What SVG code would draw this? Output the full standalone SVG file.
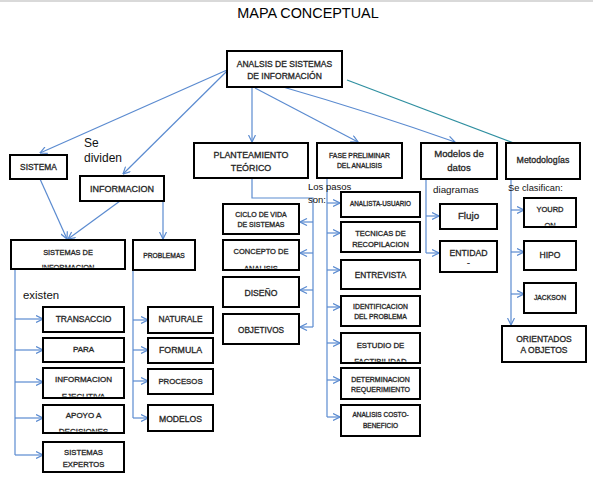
<svg xmlns="http://www.w3.org/2000/svg" width="593" height="488" viewBox="0 0 593 488">
<defs>
<style>
.bx{fill:#fff;stroke:#000;stroke-width:2}
.t{font-family:"Liberation Sans",Arial,sans-serif;fill:#262626;stroke:#262626;stroke-width:0.3;text-anchor:middle}
.l{font-family:"Liberation Sans",Arial,sans-serif;fill:#111}
.c{fill:none;stroke:#5b8bd0;stroke-width:1.2}
.ct{fill:none;stroke:#2f8fa0;stroke-width:1.2}
</style>
<marker id="ah" viewBox="0 0 8 8" refX="7.5" refY="4" markerWidth="8" markerHeight="8" markerUnits="userSpaceOnUse" orient="auto"><path d="M0.5,0.5 L7.5,4 L0.5,7.5" fill="none" stroke="#5b8bd0" stroke-width="1.2"/></marker>
<marker id="aht" viewBox="0 0 8 8" refX="7.5" refY="4" markerWidth="8" markerHeight="8" markerUnits="userSpaceOnUse" orient="auto"><path d="M0.5,0.5 L7.5,4 L0.5,7.5" fill="none" stroke="#2f8fa0" stroke-width="1.2"/></marker>
<clipPath id="cp1"><rect x="12" y="241" width="112" height="26.5"/></clipPath>
<clipPath id="cp2"><rect x="224" y="241" width="74" height="27.5"/></clipPath>
<clipPath id="cp3"><rect x="44" y="369" width="79" height="27.5"/></clipPath>
<clipPath id="cp4"><rect x="44" y="406" width="79" height="25.5"/></clipPath>
<clipPath id="cp5"><rect x="342" y="334" width="77" height="27.5"/></clipPath>
<clipPath id="cp6"><rect x="525" y="199" width="50" height="26.5"/></clipPath>
</defs>
<rect x="0" y="0" width="593" height="488" fill="#fff"/>
<rect x="0" y="0" width="593" height="2" fill="#d9d9d9"/>
<text x="308" y="18" font-family="Liberation Sans,Arial,sans-serif" font-size="14.4" text-anchor="middle" fill="#000">MAPA CONCEPTUAL</text>

<g id="connectors">
<line class="c" x1="227" y1="70" x2="40" y2="153" marker-end="url(#ah)"/>
<line class="c" x1="227" y1="71" x2="123" y2="174" marker-end="url(#ah)"/>
<line class="c" x1="252" y1="87" x2="252" y2="142" marker-end="url(#ah)"/>
<line class="c" x1="255" y1="88" x2="358" y2="142" marker-end="url(#ah)"/>
<path class="c" d="M283,87 Q370,112 455,142" marker-end="url(#ah)"/>
<line class="ct" x1="347" y1="80" x2="527" y2="148" marker-end="url(#aht)"/>
<line class="c" x1="40" y1="179" x2="67" y2="239" marker-end="url(#ah)"/>
<line class="c" x1="120" y1="201" x2="68" y2="239" marker-end="url(#ah)"/>
<line class="c" x1="163" y1="190" x2="163" y2="239" marker-end="url(#ah)"/>
<path class="c" d="M15,269 V455"/>
<line class="c" x1="15" y1="319" x2="43" y2="319" marker-end="url(#ah)"/>
<line class="c" x1="15" y1="350" x2="43" y2="350" marker-end="url(#ah)"/>
<line class="c" x1="15" y1="382" x2="43" y2="382" marker-end="url(#ah)"/>
<line class="c" x1="15" y1="418" x2="43" y2="418" marker-end="url(#ah)"/>
<line class="c" x1="15" y1="455" x2="43" y2="455" marker-end="url(#ah)"/>
<path class="c" d="M133,270 V418"/>
<line class="c" x1="133" y1="320" x2="148" y2="320" marker-end="url(#ah)"/>
<line class="c" x1="133" y1="350" x2="148" y2="350" marker-end="url(#ah)"/>
<line class="c" x1="133" y1="381" x2="148" y2="381" marker-end="url(#ah)"/>
<line class="c" x1="133" y1="418" x2="148" y2="418" marker-end="url(#ah)"/>
<path class="c" d="M252,178 V198 H313 V327"/>
<line class="c" x1="313" y1="222" x2="300" y2="222" marker-end="url(#ah)"/>
<line class="c" x1="313" y1="253" x2="300" y2="253" marker-end="url(#ah)"/>
<line class="c" x1="313" y1="290" x2="300" y2="290" marker-end="url(#ah)"/>
<line class="c" x1="313" y1="327" x2="300" y2="327" marker-end="url(#ah)"/>
<path class="c" d="M327,178 V417"/>
<line class="c" x1="327" y1="203" x2="340" y2="203" marker-end="url(#ah)"/>
<line class="c" x1="327" y1="233" x2="340" y2="233" marker-end="url(#ah)"/>
<line class="c" x1="327" y1="270" x2="340" y2="270" marker-end="url(#ah)"/>
<line class="c" x1="327" y1="307" x2="340" y2="307" marker-end="url(#ah)"/>
<line class="c" x1="327" y1="343" x2="340" y2="343" marker-end="url(#ah)"/>
<line class="c" x1="327" y1="380" x2="340" y2="380" marker-end="url(#ah)"/>
<line class="c" x1="327" y1="417" x2="340" y2="417" marker-end="url(#ah)"/>
<path class="c" d="M426,179 V253"/>
<line class="c" x1="426" y1="216" x2="439" y2="216" marker-end="url(#ah)"/>
<line class="c" x1="426" y1="253" x2="439" y2="253" marker-end="url(#ah)"/>
<line class="c" x1="511" y1="179" x2="511" y2="325" marker-end="url(#ah)"/>
<line class="c" x1="511" y1="210" x2="524" y2="210" marker-end="url(#ah)"/>
<line class="c" x1="511" y1="252" x2="524" y2="252" marker-end="url(#ah)"/>
<line class="c" x1="511" y1="294" x2="524" y2="294" marker-end="url(#ah)"/>
</g>

<g id="labels">
<text class="l" x="84" y="147" font-size="12">Se</text>
<text class="l" x="84" y="162" font-size="12">dividen</text>
<text class="l" x="23" y="299" font-size="11.4">existen</text>
<text class="l" x="308" y="190" font-size="9.5">Los pasos</text>
<text class="l" x="308" y="203" font-size="9.5">son:</text>
<text class="l" x="433" y="193" font-size="9.8">diagramas</text>
<text class="l" x="508" y="191" font-size="9.3">Se clasifican:</text>
</g>

<g id="root"><rect class="bx" x="227" y="51" width="115" height="36"/><text class="t" x="284.5" y="67" font-size="8.5">ANALSIS DE SISTEMAS</text><text class="t" x="284.5" y="79" font-size="8.5">DE INFORMACIÓN</text></g>
<g id="sistema"><rect class="bx" x="10" y="155" width="57" height="24"/><text class="t" x="38.5" y="170" font-size="8.4">SISTEMA</text></g>
<g id="informacion"><rect class="bx" x="80" y="176" width="84" height="25"/><text class="t" x="122" y="192" font-size="9">INFORMACION</text></g>
<g id="sistemas-info"><rect class="bx" x="11" y="240" width="114" height="29"/><g clip-path="url(#cp1)"><text class="t" x="68" y="255" font-size="7.4">SISTEMAS DE</text><text class="t" x="68" y="270" font-size="7.4">INFORMACION</text></g></g>
<g id="problemas"><rect class="bx" x="133" y="240" width="62" height="30"/><text class="t" x="164" y="258" font-size="6.7">PROBLEMAS</text></g>
<g id="planteamiento"><rect class="bx" x="194" y="143" width="114" height="35"/><text class="t" x="251" y="158" font-size="8.9">PLANTEAMIENTO</text><text class="t" x="251" y="171" font-size="8.9">TEÓRICO</text></g>
<g id="fase"><rect class="bx" x="317" y="143" width="85" height="35"/><text class="t" x="359.5" y="158" font-size="6.8">FASE PRELIMINAR</text><text class="t" x="359.5" y="168" font-size="6.8">DEL ANALISIS</text></g>
<g id="modelos-datos"><rect class="bx" x="421" y="143" width="76" height="36"/><text class="t" x="459" y="157" font-size="9.6">Modelos de</text><text class="t" x="459" y="171" font-size="9.6">datos</text></g>
<g id="metodologias"><rect class="bx" x="506" y="143" width="74" height="36"/><text class="t" x="543" y="163" font-size="8.8">Metodologías</text></g>
<g id="ciclo"><rect class="bx" x="223" y="204" width="76" height="30"/><text class="t" x="261" y="217" font-size="7">CICLO DE VIDA</text><text class="t" x="261" y="227" font-size="7">DE SISTEMAS</text></g>
<g id="concepto"><rect class="bx" x="223" y="240" width="76" height="30"/><g clip-path="url(#cp2)"><text class="t" x="261" y="254" font-size="7.5">CONCEPTO DE</text><text class="t" x="261" y="271" font-size="7.5">ANALISIS</text></g></g>
<g id="diseno"><rect class="bx" x="223" y="277" width="76" height="30"/><text class="t" x="261" y="296" font-size="8.6">DISEÑO</text></g>
<g id="objetivos"><rect class="bx" x="223" y="314" width="76" height="30"/><text class="t" x="261" y="333" font-size="8.2">OBJETIVOS</text></g>
<g id="analista"><rect class="bx" x="341" y="192" width="79" height="25"/><text class="t" x="380.5" y="206" font-size="6.3">ANALISTA-USUARIO</text></g>
<g id="tecnicas"><rect class="bx" x="341" y="222" width="79" height="30"/><text class="t" x="380.5" y="236" font-size="7.5">TECNICAS DE</text><text class="t" x="380.5" y="247" font-size="7.5">RECOPILACION</text></g>
<g id="entrevista"><rect class="bx" x="341" y="260" width="79" height="29"/><text class="t" x="380.5" y="278" font-size="8.3">ENTREVISTA</text></g>
<g id="identificacion"><rect class="bx" x="341" y="296" width="79" height="30"/><text class="t" x="380.5" y="309" font-size="6.8">IDENTIFICACION</text><text class="t" x="380.5" y="319" font-size="6.8">DEL PROBLEMA</text></g>
<g id="estudio"><rect class="bx" x="341" y="333" width="79" height="30"/><g clip-path="url(#cp5)"><text class="t" x="380.5" y="348" font-size="7.8">ESTUDIO DE</text><text class="t" x="380.5" y="364" font-size="7.8">FACTIBILIDAD</text></g></g>
<g id="determinacion"><rect class="bx" x="341" y="368" width="79" height="31"/><text class="t" x="380.5" y="382" font-size="7">DETERMINACION</text><text class="t" x="380.5" y="392" font-size="7">REQUERIMIENTO</text></g>
<g id="costo"><rect class="bx" x="341" y="405" width="79" height="31"/><text class="t" x="380.5" y="417" font-size="6.5">ANALISIS COSTO-</text><text class="t" x="380.5" y="428" font-size="6.5">BENEFICIO</text></g>
<g id="flujo"><rect class="bx" x="440" y="204" width="57" height="25"/><text class="t" x="468.5" y="219" font-size="9.8">Flujo</text></g>
<g id="entidad"><rect class="bx" x="440" y="241" width="57" height="31"/><text class="t" x="468.5" y="256" font-size="8.7">ENTIDAD</text><text class="t" x="468.5" y="266" font-size="8.7">-</text></g>
<g id="yourdon"><rect class="bx" x="524" y="198" width="52" height="29"/><g clip-path="url(#cp6)"><text class="t" x="550" y="212" font-size="7.5">YOURD</text><text class="t" x="550" y="227.5" font-size="7.5">ON</text></g></g>
<g id="hipo"><rect class="bx" x="524" y="241" width="52" height="29"/><text class="t" x="550" y="258" font-size="8.6">HIPO</text></g>
<g id="jackson"><rect class="bx" x="524" y="283" width="52" height="30"/><text class="t" x="550" y="300" font-size="6.8">JACKSON</text></g>
<g id="orientados"><rect class="bx" x="502" y="326" width="84" height="36"/><text class="t" x="544" y="342" font-size="8.5">ORIENTADOS</text><text class="t" x="544" y="353" font-size="8.5">A OBJETOS</text></g>
<g id="transaccio"><rect class="bx" x="43" y="307" width="81" height="25"/><text class="t" x="83.5" y="322" font-size="8.5">TRANSACCIO</text></g>
<g id="para"><rect class="bx" x="43" y="338" width="81" height="24"/><text class="t" x="83.5" y="352" font-size="8">PARA</text></g>
<g id="info-ejecutiva"><rect class="bx" x="43" y="368" width="81" height="30"/><g clip-path="url(#cp3)"><text class="t" x="83.5" y="382" font-size="8">INFORMACION</text><text class="t" x="83.5" y="398.5" font-size="8">EJECUTIVA</text></g></g>
<g id="apoyo"><rect class="bx" x="43" y="405" width="81" height="28"/><g clip-path="url(#cp4)"><text class="t" x="83.5" y="418" font-size="8">APOYO A</text><text class="t" x="83.5" y="433.5" font-size="8">DECISIONES</text></g></g>
<g id="sistemas-expertos"><rect class="bx" x="43" y="442" width="81" height="30"/><text class="t" x="83.5" y="455" font-size="7.7">SISTEMAS</text><text class="t" x="83.5" y="467" font-size="7.7">EXPERTOS</text></g>
<g id="naturale"><rect class="bx" x="148" y="307" width="65" height="26"/><text class="t" x="180.5" y="322" font-size="8.4">NATURALE</text></g>
<g id="formula"><rect class="bx" x="148" y="338" width="65" height="25"/><text class="t" x="180.5" y="353" font-size="8.8">FORMULA</text></g>
<g id="procesos"><rect class="bx" x="148" y="369" width="65" height="25"/><text class="t" x="180.5" y="384" font-size="7.8">PROCESOS</text></g>
<g id="modelos"><rect class="bx" x="148" y="405" width="65" height="26"/><text class="t" x="180.5" y="422" font-size="8.6">MODELOS</text></g>
</svg>
